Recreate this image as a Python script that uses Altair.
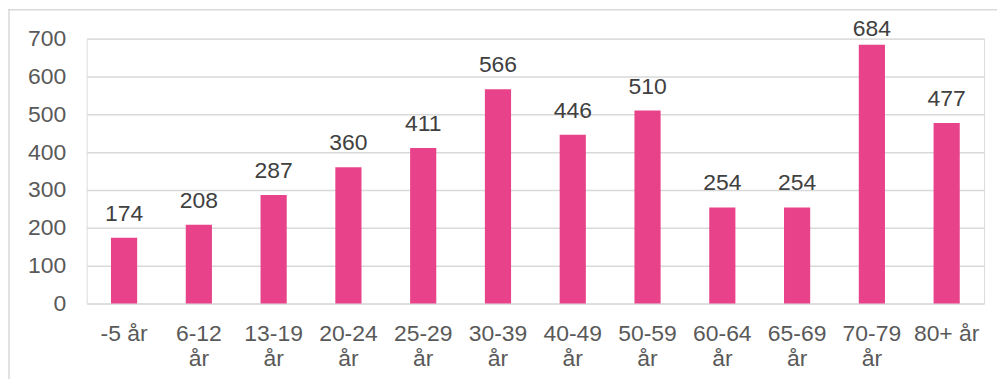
import altair as alt
import pandas as pd

categories = ["-5 år", "6-12\når", "13-19\når", "20-24\når", "25-29\når", "30-39\når",
              "40-49\når", "50-59\når", "60-64\når", "65-69\når", "70-79\når", "80+ år"]
values = [174, 208, 287, 360, 411, 566, 446, 510, 254, 254, 684, 477]
y_ticks = [0, 100, 200, 300, 400, 500, 600, 700]

df = pd.DataFrame({"cat": categories, "value": values})

PINK = "#E8428A"
TEXT = "#595959"
GRID = "#D9D9D9"
FONT = "Liberation Sans"

x_axis = alt.Axis(labelAngle=0, labelFontSize=23, labelColor=TEXT, labelFont=FONT,
                  ticks=False, domain=False, grid=False, labelPadding=19,
                  labelOverlap=False,
                  labelExpr="split(datum.label, '\\n')", labelLineHeight=25)
y_axis = alt.Axis(values=y_ticks, labelFontSize=23, labelColor=TEXT, labelFont=FONT,
                  ticks=False, domain=False, labelPadding=21, labelOverlap=False,
                  labelFlush=False, grid=True, gridColor=GRID, gridWidth=1.5)
x_scale = alt.Scale(paddingInner=0.65, paddingOuter=0.325)
y_scale = alt.Scale(domain=[0, 700], nice=False)

bars = alt.Chart(df).mark_bar(color=PINK).encode(
    x=alt.X("cat:N", sort=categories, title=None, scale=x_scale, axis=x_axis),
    y=alt.Y("value:Q", title=None, scale=y_scale, axis=y_axis),
)

labels = alt.Chart(df).transform_calculate(
    ly="min(datum.value, 663)"
).mark_text(dy=-17, baseline="alphabetic", fontSize=23, font=FONT, color="#404040").encode(
    x=alt.X("cat:N", sort=categories, title=None, scale=x_scale, axis=x_axis),
    y=alt.Y("ly:Q", title=None, scale=y_scale, axis=y_axis),
    text=alt.Text("value:Q"),
)

frame = alt.Data(values=[{"k": 1}])
top_border = alt.Chart(frame).mark_rule(color=GRID, strokeWidth=1.5).encode(
    x=alt.value(-79), x2=alt.value(914), y=alt.value(-29))
left_border = alt.Chart(frame).mark_rule(color=GRID, strokeWidth=1.5).encode(
    x=alt.value(-78), y=alt.value(-29), y2=alt.value(345))

chart = alt.layer(bars, labels, top_border, left_border).properties(
    width=901, height=266,
    autosize=alt.AutoSizeParams(type="none"),
    padding={"left": 79, "top": 30, "right": 13, "bottom": 75},
).configure_view(strokeWidth=0, strokeOpacity=0).configure(background="white")

chart.save("out.html", embed_options={"renderer": "svg", "actions": False})
